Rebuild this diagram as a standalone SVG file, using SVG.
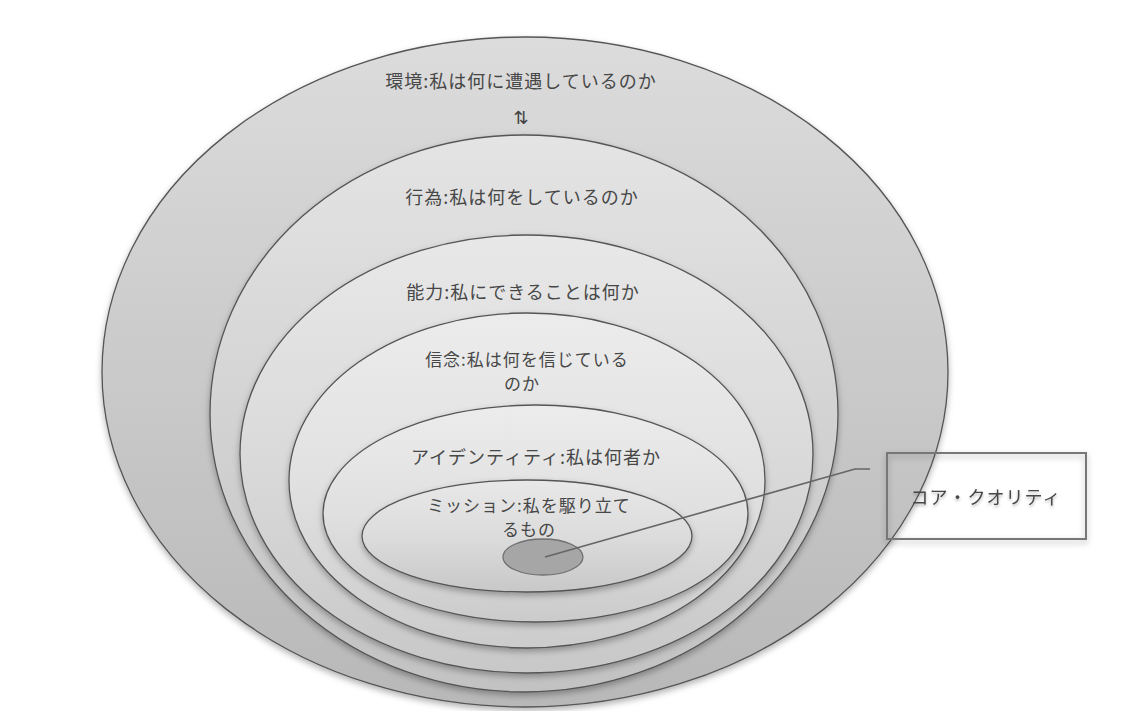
<svg xmlns="http://www.w3.org/2000/svg" width="1135" height="711" viewBox="0 0 1135 711">
  <defs>
    <linearGradient id="g1" x1="0" y1="0" x2="0" y2="1">
      <stop offset="0" stop-color="#dcdcdc"/>
      <stop offset="0.5" stop-color="#cacaca"/>
      <stop offset="1" stop-color="#b8b8b8"/>
    </linearGradient>
    <linearGradient id="g2" x1="0" y1="0" x2="0" y2="1">
      <stop offset="0" stop-color="#e4e4e4"/>
      <stop offset="0.5" stop-color="#d3d3d3"/>
      <stop offset="1" stop-color="#c2c2c2"/>
    </linearGradient>
    <linearGradient id="g3" x1="0" y1="0" x2="0" y2="1">
      <stop offset="0" stop-color="#e8e8e8"/>
      <stop offset="0.5" stop-color="#dadada"/>
      <stop offset="1" stop-color="#c8c8c8"/>
    </linearGradient>
    <linearGradient id="g4" x1="0" y1="0" x2="0" y2="1">
      <stop offset="0" stop-color="#ececec"/>
      <stop offset="0.5" stop-color="#e1e1e1"/>
      <stop offset="1" stop-color="#cccccc"/>
    </linearGradient>
    <linearGradient id="g5" x1="0" y1="0" x2="0" y2="1">
      <stop offset="0" stop-color="#ececec"/>
      <stop offset="0.5" stop-color="#e0e0e0"/>
      <stop offset="1" stop-color="#cbcbcb"/>
    </linearGradient>
    <linearGradient id="g6" x1="0" y1="0" x2="0" y2="1">
      <stop offset="0" stop-color="#e8e8e8"/>
      <stop offset="0.5" stop-color="#dcdcdc"/>
      <stop offset="1" stop-color="#c8c8c8"/>
    </linearGradient>
    <filter id="shadow" x="-10%" y="-10%" width="120%" height="125%">
      <feDropShadow dx="0" dy="3" stdDeviation="3" flood-color="#000" flood-opacity="0.3"/>
    </filter>
    <filter id="tshadow" x="-10%" y="-30%" width="120%" height="170%">
      <feDropShadow dx="0" dy="2" stdDeviation="1.5" flood-color="#000" flood-opacity="0.3"/>
    </filter>
  </defs>
  <style>
    .layer { stroke: #555; stroke-width: 1.3; filter: url(#shadow); }
    .lbl { font-family: "Noto Sans CJK JP", "Noto Sans", sans-serif; font-size: 18px; letter-spacing: 1px; fill: #474747; text-anchor: middle; }
    .lbl2 { font-size: 17px; }
    .conn { fill: none; stroke: #666; stroke-width: 1.6; }
  </style>
  <rect width="1135" height="711" fill="#ffffff"/>

  <g id="environment">
    <ellipse class="layer" cx="525" cy="372" rx="423" ry="335" fill="url(#g1)"/>
    <text class="lbl" x="521" y="88">環境:私は何に遭遇しているのか</text>
    <text x="521" y="124" font-family="DejaVu Sans, sans-serif" font-size="18" fill="#444" text-anchor="middle">⇅</text>
  </g>

  <g id="action">
    <ellipse class="layer" cx="524" cy="413.5" rx="314" ry="278.5" fill="url(#g2)"/>
    <text class="lbl" x="522" y="204">行為:私は何をしているのか</text>
  </g>

  <g id="capability">
    <ellipse class="layer" cx="526.5" cy="454" rx="286.5" ry="219" fill="url(#g3)"/>
    <text class="lbl" x="523" y="299">能力:私にできることは何か</text>
  </g>

  <g id="belief">
    <ellipse class="layer" cx="527" cy="480.5" rx="238" ry="167.5" fill="url(#g4)"/>
    <text class="lbl lbl2" x="527" y="366">信念:私は何を信じている</text>
    <text class="lbl lbl2" x="522" y="390">のか</text>
  </g>

  <g id="identity">
    <ellipse class="layer" cx="535.5" cy="513.5" rx="212.5" ry="108.5" fill="url(#g5)"/>
    <text class="lbl" x="536" y="464">アイデンティティ:私は何者か</text>
  </g>

  <g id="mission">
    <ellipse class="layer" cx="527" cy="536" rx="165" ry="56" fill="url(#g6)"/>
    <text class="lbl lbl2" x="529" y="512">ミッション:私を駆り立て</text>
    <text class="lbl lbl2" x="529" y="536">るもの</text>
  </g>

  <g id="core">
    <ellipse cx="543" cy="557" rx="40" ry="18" fill="#a6a6a6" stroke="#707070" stroke-width="1.3"/>
  </g>

  <g id="connectors">
    <polyline class="conn" points="545,557 855,469 870,469"/>
  </g>

  <g id="core-quality">
    <rect x="887" y="453" width="199" height="86" fill="none" stroke="#777" stroke-width="2" filter="url(#shadow)"/>
    <text class="lbl" x="986" y="504" font-size="18" letter-spacing="1.5" fill="#444" filter="url(#tshadow)">コア・クオリティ</text>
  </g>
</svg>
